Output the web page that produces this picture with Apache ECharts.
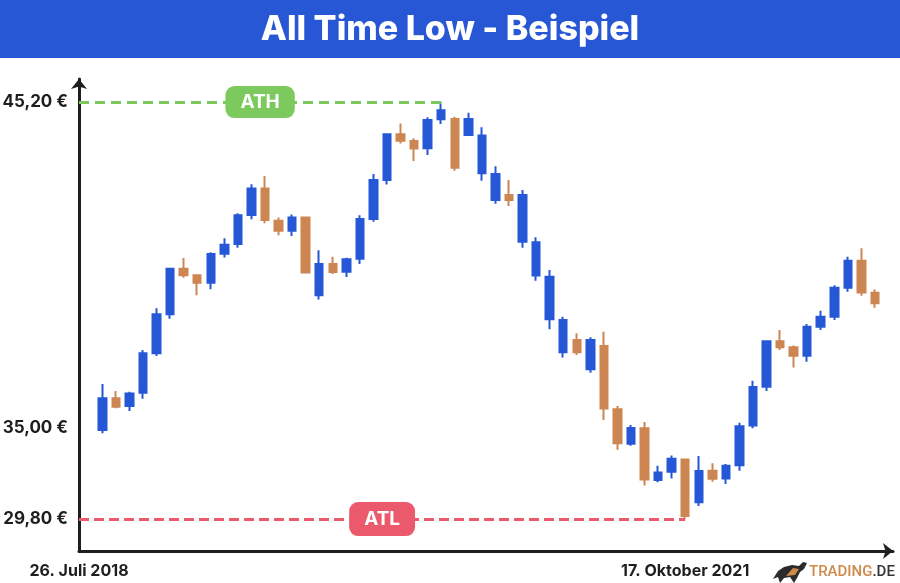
<!DOCTYPE html>
<html>
<head>
<meta charset="utf-8">
<script src="https://cdn.jsdelivr.net/npm/echarts@6/dist/echarts.min.js"></script>
<style>
html,body{margin:0;padding:0;background:#ffffff;}
#c{width:900px;height:583px;}
</style>
</head>
<body>
<div id="c"></div>
<script>
// ---- data ----
const opens  = [33.09,34.26,33.97,34.46,35.92,37.36,39.04,38.80,38.53,39.60,39.96,41.03,42.01,40.82,40.45,40.94,38.06,39.22,38.93,39.41,40.88,42.32,44.01,43.76,43.49,44.56,44.57,43.98,42.57,41.58,41.77,40.04,38.79,37.18,35.96,36.41,35.33,36.19,33.85,32.58,33.15,31.24,31.55,32.00,30.42,31.58,31.30,31.79,33.25,34.69,36.37,36.14,35.83,36.90,37.27,38.34,39.34,38.16];
const closes = [34.26,33.95,34.44,35.92,37.36,39.04,38.80,38.53,39.59,39.93,41.02,42.01,40.84,40.45,40.94,38.90,39.22,38.92,39.39,40.88,42.32,44.01,43.77,43.48,44.54,44.90,42.77,44.57,43.96,42.54,41.58,41.77,40.02,38.75,37.15,35.96,36.41,33.88,32.60,33.16,31.26,31.52,32.03,29.91,31.57,31.29,31.77,33.23,34.68,36.37,36.14,35.83,36.90,37.27,38.34,39.34,38.17,37.77];
const lows   = [32.97,33.89,33.79,34.24,35.82,37.20,38.71,38.06,38.29,39.46,39.82,40.87,40.72,40.28,40.25,38.87,37.91,38.85,38.74,39.22,40.78,42.15,43.67,43.02,43.24,44.39,42.66,43.96,42.29,41.44,41.36,39.82,38.60,36.81,35.77,35.86,35.20,33.46,32.36,32.51,31.04,31.16,31.30,29.80,30.28,31.18,31.09,31.58,33.15,34.53,36.04,35.40,35.61,36.78,37.15,38.19,38.05,37.60];
const highs  = [34.79,34.53,34.50,36.04,37.58,39.08,39.44,38.84,39.65,40.17,41.09,42.16,42.47,40.94,41.05,40.96,39.73,39.49,39.45,41.02,42.54,44.03,44.41,43.86,44.64,45.20,44.66,44.80,44.27,42.83,42.32,41.95,40.21,39.00,37.27,36.66,36.51,36.72,33.97,33.27,33.38,31.77,32.15,32.02,32.13,31.86,31.83,33.36,34.91,36.39,36.78,36.21,37.00,37.49,38.43,39.49,39.80,38.28];

const priceLabels = ['45,20 €', '35,00 €', '29,80 €'];
const priceLevels = [45.2, 33.16, 29.8];
const dateLabels  = ['26. Juli 2018', '17. Oktober 2021'];

const athValue = 45.2, athIndex = 25;
const atlValue = 29.8, atlIndex = 43;

// ---- axis extents ----
const X_MIN = -1.72, X_MAX = 58.33;
const Y_MIN = 28.62, Y_MAX = 46.05;
const dateTicks = [X_MIN, atlIndex];

const candles = opens.map((o, i) => [i, o, closes[i], lows[i], highs[i]]);

const BLUE = '#2557d6';
const BROWN = '#cd8552';
const DARK = '#1e1e1e';

function nearestLabel(v, values, labels) {
  for (let k = 0; k < values.length; k++) {
    if (Math.abs(values[k] - v) < 1e-6) return labels[k];
  }
  return '';
}

const chart = echarts.init(document.getElementById('c'), null, {renderer: 'canvas'});
chart.setOption({
  animation: false,
  backgroundColor: '#ffffff',
  title: {
    text: 'All Time Low - Beispiel',
    left: 'center',
    top: 8,
    textStyle: {color: '#ffffff', fontSize: 34, fontWeight: 800, fontFamily: 'Inter'}
  },
  graphic: [
    {type: 'rect', left: 0, top: 0, z: -10, shape: {width: 900, height: 58}, style: {fill: '#2757d4'}},
    {
      type: 'polygon', z: 5,
      shape: {points: [[773,579],[778,571],[784,567],[792,565],[799,566],[803,562],[807,563],[804,569],[800,572],[797,578],[794,583],[790,577],[784,578],[780,583],[778,577]]},
      style: {fill: '#2b2b2b'}
    },
    {
      type: 'polygon', z: 6,
      shape: {points: [[786,576],[793,568],[799,569],[795,575]]},
      style: {fill: '#cf8a4c'}
    },
    {
      type: 'text', left: 809, top: 565,
      style: {
        text: '{o|TRADING}{d|.DE}',
        rich: {
          o: {fontFamily: 'Roboto', fontSize: 15, fontWeight: 500, fill: '#cf8a4c', color: '#cf8a4c'},
          d: {fontFamily: 'Roboto', fontSize: 15, fontWeight: 500, fill: '#333333', color: '#333333'}
        }
      }
    }
  ],
  grid: {left: 79, right: 7, top: 79, bottom: 32, outerBoundsMode: 'none'},
  xAxis: {
    type: 'value',
    min: X_MIN, max: X_MAX,
    splitLine: {show: false},
    axisTick: {show: false},
    axisLine: {show: true, onZero: false, symbol: ['none', 'arrow'], symbolSize: [12, 10],
      lineStyle: {color: DARK, width: 3}},
    axisLabel: {
      customValues: dateTicks,
      margin: 12,
      color: DARK, fontSize: 16, fontWeight: 'bold', fontFamily: 'Inter',
      formatter: v => nearestLabel(v, dateTicks, dateLabels)
    }
  },
  yAxis: {
    type: 'value',
    min: Y_MIN, max: Y_MAX,
    splitLine: {show: false},
    axisTick: {show: false},
    axisLine: {show: true, onZero: false, symbol: ['none', 'arrow'], symbolSize: [12, 10],
      lineStyle: {color: DARK, width: 3}},
    axisLabel: {
      customValues: priceLevels,
      margin: 11,
      color: DARK, fontSize: 17, fontWeight: 'bold', fontFamily: 'Inter',
      formatter: v => nearestLabel(v, priceLevels, priceLabels)
    }
  },
  series: [{
    type: 'candlestick',
    data: candles,
    encode: {x: 0, y: [1, 2, 3, 4]},
    barWidth: 8,
    itemStyle: {color: BLUE, color0: BROWN, borderColor: BLUE, borderColor0: BROWN, borderWidth: 2},
    markLine: {
      silent: true,
      symbol: ['none', 'none'],
      animation: false,
      data: [
        [
          {coord: [X_MIN, athValue],
           lineStyle: {color: '#7cca5e', width: 3, type: [10, 6]},
           label: {show: true, position: 'middle', distance: 0, verticalAlign: 'middle', formatter: 'ATH',
             color: '#ffffff', fontSize: 19, fontWeight: 'bold', fontFamily: 'Inter',
             backgroundColor: '#7cca5e', borderRadius: 9, padding: [7, 15, 6, 15]}},
          {coord: [athIndex, athValue]}
        ],
        [
          {coord: [X_MIN, atlValue],
           lineStyle: {color: '#ea5a6c', width: 3, type: [10, 5]},
           label: {show: true, position: 'middle', distance: 0, verticalAlign: 'middle', formatter: 'ATL',
             color: '#ffffff', fontSize: 19, fontWeight: 'bold', fontFamily: 'Inter',
             backgroundColor: '#ea5a6c', borderRadius: 9, padding: [8, 15, 7, 15]}},
          {coord: [atlIndex, atlValue]}
        ]
      ]
    }
  }]
});
</script>
</body>
</html>
